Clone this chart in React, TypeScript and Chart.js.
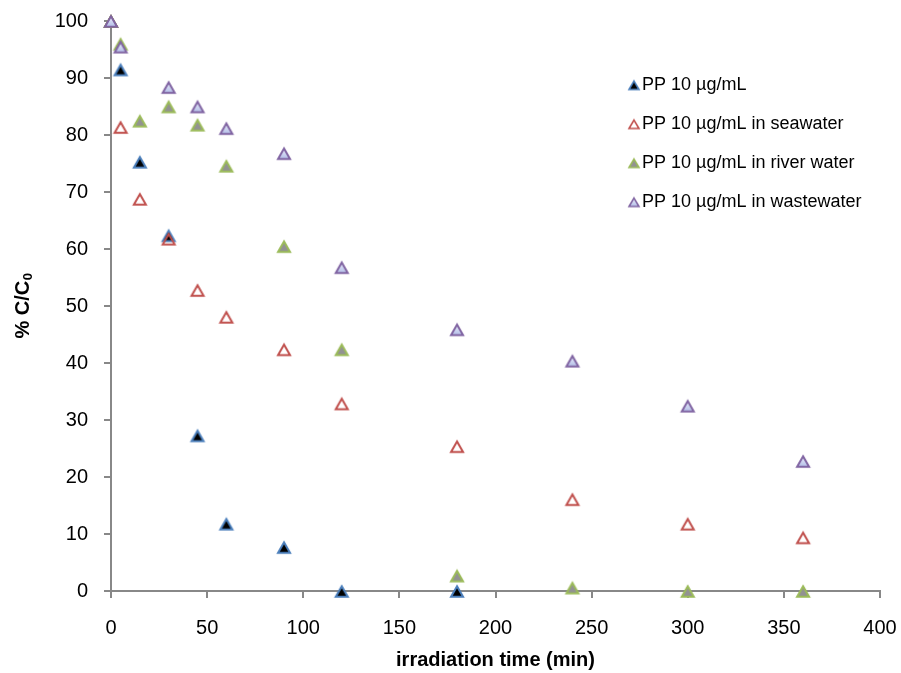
import React, { useEffect, useRef } from "react";
import { Chart, registerables } from "chart.js";

Chart.register(...registerables);

// ---- data ----
const seriesLabels = [
  "PP 10 µg/mL",
  "PP 10 µg/mL in seawater",
  "PP 10 µg/mL in river water",
  "PP 10 µg/mL in wastewater",
];

const timesPP = [0, 5, 15, 30, 45, 60, 90, 120, 180];
const valuesPP = [100, 91.5, 75.3, 62.4, 27.3, 11.8, 7.7, 0, 0];

const timesSea = [0, 5, 15, 30, 45, 60, 90, 120, 180, 240, 300, 360];
const valuesSea = [100, 81.4, 68.8, 61.8, 52.8, 48.1, 42.4, 32.9, 25.4, 16.1, 11.8, 9.4];

const timesRiver = [0, 5, 15, 30, 45, 60, 90, 120, 180, 240, 300, 360];
const valuesRiver = [100, 96, 82.5, 85, 81.8, 74.6, 60.5, 42.4, 2.7, 0.6, 0, 0];

const timesWaste = [0, 5, 30, 45, 60, 90, 120, 180, 240, 300, 360];
const valuesWaste = [100, 95.5, 88.4, 85, 81.2, 76.8, 56.8, 45.9, 40.4, 32.5, 22.8];

const xTitle = "irradiation time (min)";
const yTitleMain = "% C/C";
const yTitleSub = "0";

const xMin = 0;
const xMax = 400;
const xStep = 50;
const yMin = 0;
const yMax = 100;
const yStep = 10;

// ---- styles ----
const FONT = "'Liberation Sans', Arial, Helvetica, sans-serif";
const AXIS_COLOR = "#888888";

type MarkerStyle = { fill: string | [string, string] | null; stroke: string };
const markerStyles: MarkerStyle[] = [
  { fill: "#000000", stroke: "#4a7ebb" },
  { fill: null, stroke: "#c0504d" },
  { fill: "#929292", stroke: "#9bbb59" },
  { fill: ["#eceefa", "#b3bee8"], stroke: "#8064a2" },
];

function makeTriangle(
  cw: number,
  ch: number,
  halfW: number,
  apexY: number,
  baseY: number,
  lw: number,
  style: MarkerStyle
): HTMLCanvasElement {
  const c = document.createElement("canvas");
  c.width = cw;
  c.height = ch;
  const ctx = c.getContext("2d")!;
  const cx = cw / 2;
  ctx.beginPath();
  ctx.moveTo(cx, apexY);
  ctx.lineTo(cx + halfW, baseY);
  ctx.lineTo(cx - halfW, baseY);
  ctx.closePath();
  if (style.fill) {
    if (Array.isArray(style.fill)) {
      const g = ctx.createLinearGradient(0, apexY, 0, baseY);
      g.addColorStop(0, style.fill[0]);
      g.addColorStop(1, style.fill[1]);
      ctx.fillStyle = g;
    } else {
      ctx.fillStyle = style.fill;
    }
    ctx.fill();
  }
  ctx.lineJoin = "miter";
  ctx.lineWidth = lw;
  ctx.strokeStyle = style.stroke;
  ctx.stroke();
  return c;
}

const zeroPadding = (s: any) => {
  s.paddingLeft = 0;
  s.paddingRight = 0;
  s.paddingTop = 0;
  s.paddingBottom = 0;
};

export default function App() {
  const ref = useRef<HTMLCanvasElement>(null);

  useEffect(() => {
    if (!ref.current) return;
    const pointImgs = markerStyles.map((s) => makeTriangle(20, 18, 6, 4.3, 14.7, 2, s));
    const legendImgs = markerStyles.map((s) => makeTriangle(14, 13, 5, 2.6, 11, 1.6, s));

    const toXY = (xs: number[], ys: number[]) => xs.map((x, i) => ({ x, y: ys[i] }));
    const seriesData = [
      toXY(timesPP, valuesPP),
      toXY(timesSea, valuesSea),
      toXY(timesRiver, valuesRiver),
      toXY(timesWaste, valuesWaste),
    ];

    const datasets = seriesData.map((data, i) => ({
      label: seriesLabels[i],
      data,
      pointStyle: pointImgs[i],
      pointRadius: 6,
      showLine: false,
      clip: false as any,
      order: 3 - i,
    }));

    const overlay = {
      id: "overlay",
      afterDraw(chart: any) {
        const ctx: CanvasRenderingContext2D = chart.ctx;
        const a = chart.chartArea;
        ctx.save();
        ctx.fillStyle = "#000";
        // x title
        ctx.font = `bold 20px ${FONT}`;
        ctx.textAlign = "center";
        ctx.textBaseline = "middle";
        ctx.fillText(xTitle, (a.left + a.right) / 2, a.bottom + 69);
        // y title with subscript
        ctx.save();
        ctx.translate(23, (a.top + a.bottom) / 2);
        ctx.rotate(-Math.PI / 2);
        ctx.font = `bold 20px ${FONT}`;
        const mw = ctx.measureText(yTitleMain).width;
        ctx.font = `bold 13px ${FONT}`;
        const sw = ctx.measureText(yTitleSub).width;
        const start = -(mw + sw) / 2;
        ctx.textAlign = "left";
        ctx.font = `bold 20px ${FONT}`;
        ctx.fillText(yTitleMain, start, 0);
        ctx.font = `bold 13px ${FONT}`;
        ctx.fillText(yTitleSub, start + mw + 0.5, 5);
        ctx.restore();
        // legend
        ctx.font = `18px ${FONT}`;
        ctx.textAlign = "left";
        ctx.textBaseline = "middle";
        chart.data.datasets.forEach((ds: any, i: number) => {
          const y = 85 + i * 39;
          const img = legendImgs[i];
          ctx.drawImage(img, 634 - img.width / 2, y - img.height / 2);
          ctx.fillStyle = "#000";
          ctx.fillText(ds.label, 642, y);
        });
        ctx.restore();
      },
    };

    const chart = new Chart(ref.current, {
      type: "scatter",
      data: { datasets: datasets as any },
      options: {
        responsive: false,
        animation: false,
        events: [],
        layout: { padding: { top: 21, right: 21, left: 0, bottom: 0 } },
        plugins: {
          legend: { display: false },
          tooltip: { enabled: false },
          title: { display: false },
        },
        scales: {
          x: {
            type: "linear",
            min: xMin,
            max: xMax,
            afterFit: (s: any) => {
              s.height = 82;
              zeroPadding(s);
            },
            ticks: {
              stepSize: xStep,
              color: "#000",
              font: { family: FONT, size: 20 },
              padding: 18,
              maxRotation: 0,
            },
            grid: {
              drawOnChartArea: false,
              drawTicks: true,
              tickLength: 7,
              color: AXIS_COLOR,
              lineWidth: 2,
            },
            border: { display: true, color: AXIS_COLOR, width: 2 },
          },
          y: {
            type: "linear",
            min: yMin,
            max: yMax,
            afterFit: (s: any) => {
              s.width = 111;
              zeroPadding(s);
            },
            ticks: {
              stepSize: yStep,
              color: "#000",
              font: { family: FONT, size: 20 },
              padding: 16,
            },
            grid: {
              drawOnChartArea: false,
              drawTicks: true,
              tickLength: 7,
              color: AXIS_COLOR,
              lineWidth: 2,
            },
            border: { display: true, color: AXIS_COLOR, width: 2 },
          },
        },
      },
      plugins: [overlay],
    });

    return () => chart.destroy();
  }, []);

  return (
    <canvas
      ref={ref}
      width={901}
      height={673}
      style={{ position: "fixed", left: 0, top: 0, width: 901, height: 673, background: "#fff" }}
    />
  );
}
